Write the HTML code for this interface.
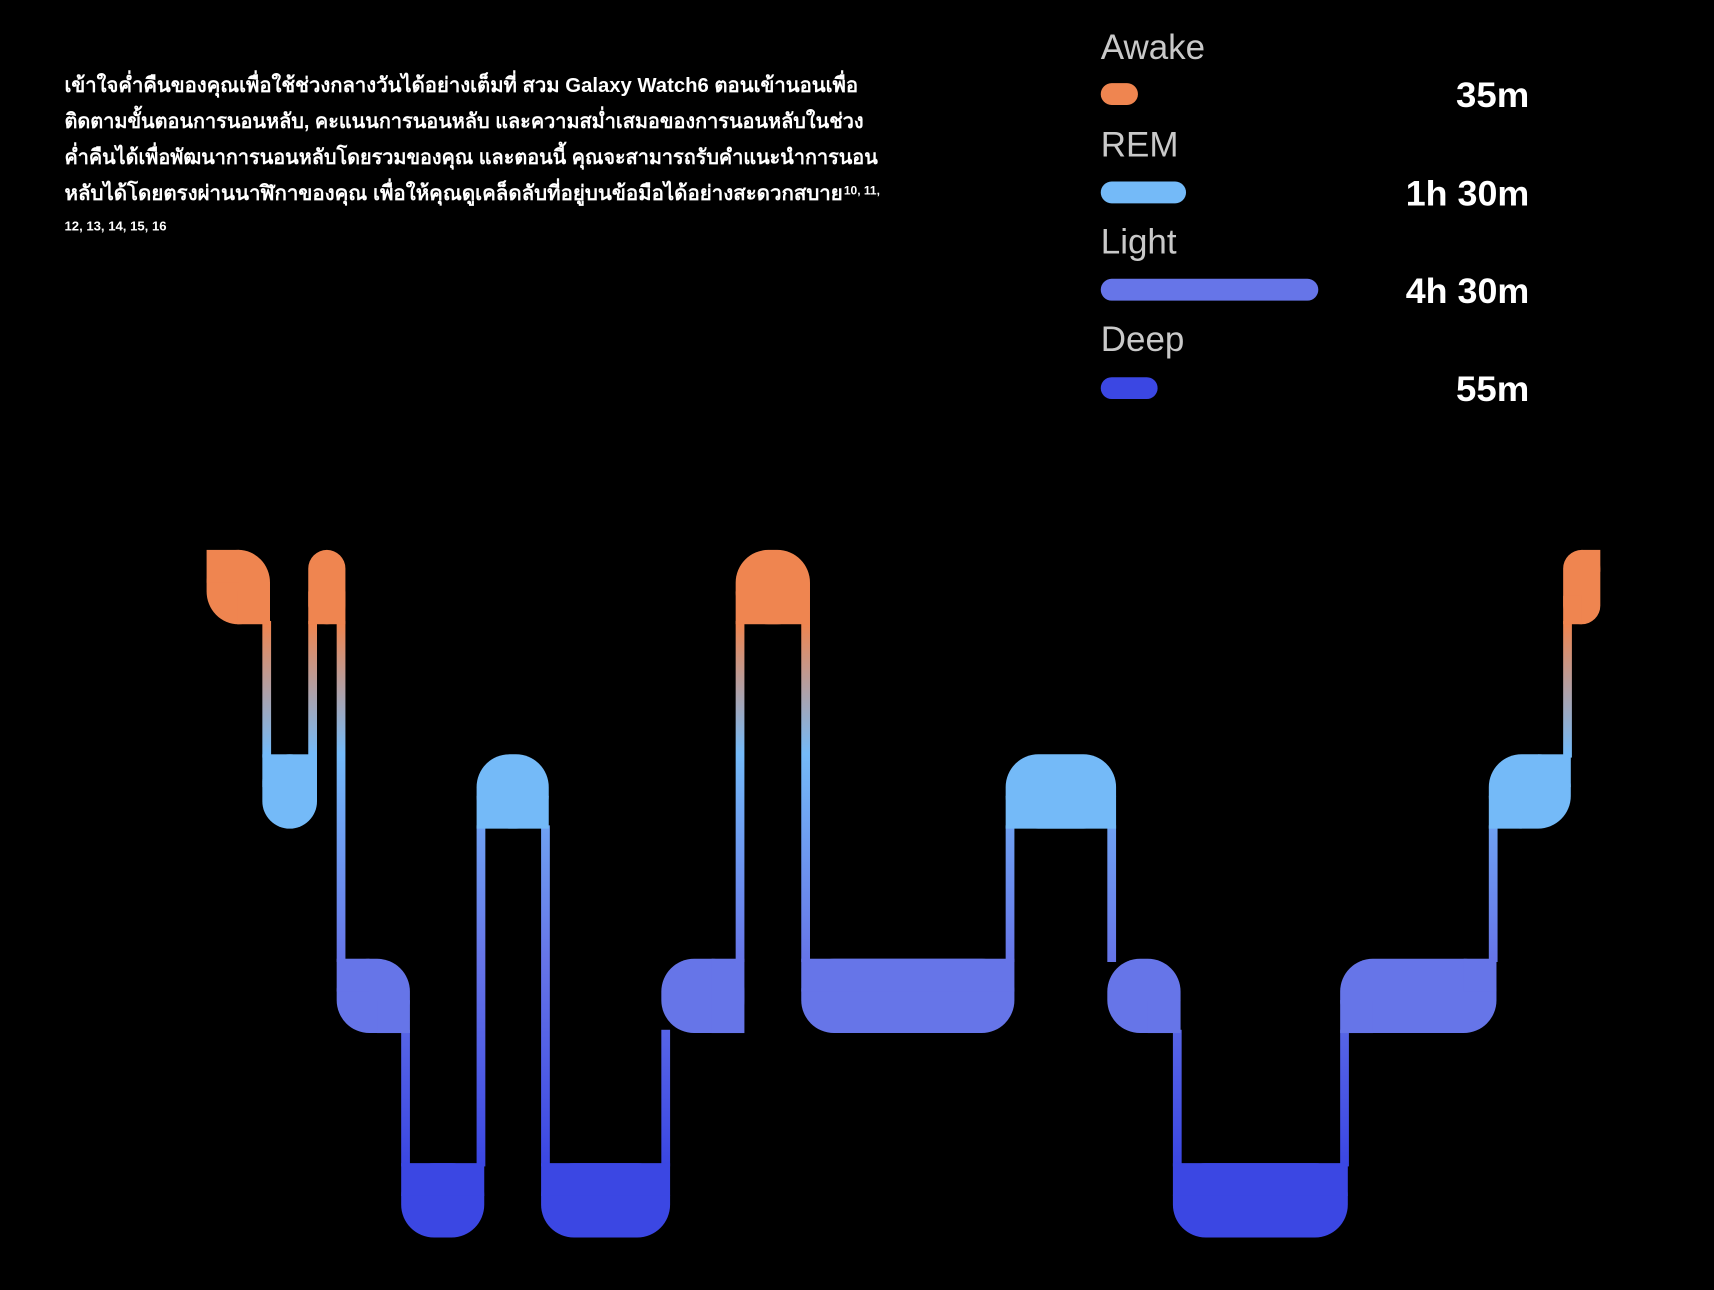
<!DOCTYPE html>
<html><head><meta charset="utf-8"><style>
html,body{margin:0;padding:0;background:#000;width:1714px;height:1290px;overflow:hidden}
svg{display:block}
.p{font-family:"Liberation Sans","DejaVu Sans",sans-serif;font-size:19px;font-weight:bold;fill:#fff}
.l{font-family:"Liberation Sans","DejaVu Sans",sans-serif;font-size:32px;fill:#c9c9c9}
.v{font-family:"Liberation Sans","DejaVu Sans",sans-serif;font-size:32px;font-weight:bold;fill:#fff;text-anchor:end}
</style></head><body>
<svg width="1714" height="1290" viewBox="0 0 1568 1180" xmlns="http://www.w3.org/2000/svg">
<defs>
<linearGradient id="g" gradientUnits="userSpaceOnUse" x1="0" y1="571" x2="0" y2="1064">
<stop offset="0" stop-color="#EF8550"/>
<stop offset="0.24" stop-color="#74BAF8"/>
<stop offset="0.62" stop-color="#6675E8"/>
<stop offset="1" stop-color="#3B47E3"/>
</linearGradient>
</defs>
<rect width="1568" height="1180" fill="#000"/>
<text class="p" x="59" y="84" textLength="726" lengthAdjust="spacingAndGlyphs">เข้าใจค่ำคืนของคุณเพื่อใช้ช่วงกลางวันได้อย่างเต็มที่ สวม Galaxy Watch6 ตอนเข้านอนเพื่อ</text>
<text class="p" x="59" y="117" textLength="731" lengthAdjust="spacingAndGlyphs">ติดตามขั้นตอนการนอนหลับ, คะแนนการนอนหลับ และความสม่ำเสมอของการนอนหลับในช่วง</text>
<text class="p" x="59" y="150" textLength="744" lengthAdjust="spacingAndGlyphs">ค่ำคืนได้เพื่อพัฒนาการนอนหลับโดยรวมของคุณ และตอนนี้ คุณจะสามารถรับคำแนะนำการนอน</text>
<text class="p" x="59" y="183" textLength="712" lengthAdjust="spacingAndGlyphs">หลับได้โดยตรงผ่านนาฬิกาของคุณ เพื่อให้คุณดูเคล็ดลับที่อยู่บนข้อมือได้อย่างสะดวกสบาย</text>
<text class="p" x="772" y="178" style="font-size:11px">10, 11,</text>
<text class="p" x="59" y="211" style="font-size:12px">12, 13, 14, 15, 16</text>

<text class="l" x="1007" y="54">Awake</text>
<text class="l" x="1007" y="143">REM</text>
<text class="l" x="1007" y="232">Light</text>
<text class="l" x="1007" y="321">Deep</text>
<rect x="1007" y="76" width="34" height="20" rx="10" fill="#EF8550"/>
<rect x="1007" y="166" width="78" height="20" rx="10" fill="#74BAF8"/>
<rect x="1007" y="255" width="199" height="20" rx="10" fill="#6675E8"/>
<rect x="1007" y="345" width="52" height="20" rx="10" fill="#3B47E3"/>
<text class="v" x="1399" y="98" textLength="67" lengthAdjust="spacingAndGlyphs">35m</text>
<text class="v" x="1399" y="188" textLength="113" lengthAdjust="spacingAndGlyphs">1h 30m</text>
<text class="v" x="1399" y="277" textLength="113" lengthAdjust="spacingAndGlyphs">4h 30m</text>
<text class="v" x="1399" y="367" textLength="67" lengthAdjust="spacingAndGlyphs">55m</text>

<!-- connectors -->
<g fill="url(#g)">
<rect x="240" y="568" width="8" height="125"/>
<rect x="282" y="568" width="8" height="125"/>
<rect x="308" y="568" width="8" height="312"/>
<rect x="367" y="942" width="8" height="125"/>
<rect x="436" y="755" width="8" height="312"/>
<rect x="495" y="755" width="8" height="312"/>
<rect x="605" y="942" width="8" height="125"/>
<rect x="673" y="568" width="8" height="312"/>
<rect x="733" y="568" width="8" height="312"/>
<rect x="920" y="755" width="8" height="125"/>
<rect x="1013" y="755" width="8" height="125"/>
<rect x="1073" y="942" width="8" height="125"/>
<rect x="1226" y="942" width="8" height="125"/>
<rect x="1362" y="755" width="8" height="125"/>
<rect x="1430" y="568" width="8" height="125"/>
</g>

<!-- Awake bands -->
<g fill="#EF8550">
<rect x="189" y="503" width="58" height="68" rx="30"/><rect x="189" y="503" width="30" height="30"/><rect x="217" y="541" width="30" height="30"/>
<rect x="282" y="503" width="34" height="68" rx="17"/><rect x="282" y="541" width="34" height="30"/>
<rect x="673" y="503" width="68" height="68" rx="30"/><rect x="673" y="541" width="68" height="30"/>
<rect x="1430" y="503" width="34" height="68" rx="17"/><rect x="1447" y="503" width="17" height="20"/><rect x="1430" y="545" width="17" height="26"/>
</g>
<!-- REM -->
<g fill="#74BAF8">
<rect x="240" y="690" width="50" height="68" rx="25"/><rect x="240" y="690" width="50" height="30"/>
<rect x="436" y="690" width="66" height="68" rx="30"/><rect x="436" y="728" width="66" height="30"/>
<rect x="920" y="690" width="101" height="68" rx="30"/><rect x="920" y="728" width="101" height="30"/>
<rect x="1362" y="690" width="75" height="68" rx="30"/><rect x="1407" y="690" width="30" height="30"/><rect x="1362" y="728" width="30" height="30"/>
</g>
<!-- Light -->
<g fill="#6675E8">
<rect x="308" y="877" width="67" height="68" rx="30"/><rect x="308" y="877" width="30" height="30"/><rect x="345" y="915" width="30" height="30"/>
<rect x="605" y="877" width="76" height="68" rx="30"/><rect x="651" y="877" width="30" height="68"/>
<rect x="733" y="877" width="195" height="68" rx="30"/><rect x="733" y="877" width="195" height="30"/>
<rect x="1013" y="877" width="67" height="68" rx="30"/><rect x="1050" y="915" width="30" height="30"/>
<rect x="1226" y="877" width="143" height="68" rx="30"/><rect x="1339" y="877" width="30" height="30"/><rect x="1226" y="915" width="30" height="30"/>
</g>
<!-- Deep -->
<g fill="#3B47E3">
<rect x="367" y="1064" width="76" height="68" rx="30"/><rect x="367" y="1064" width="76" height="30"/>
<rect x="495" y="1064" width="118" height="68" rx="30"/><rect x="495" y="1064" width="118" height="30"/>
<rect x="1073" y="1064" width="160" height="68" rx="30"/><rect x="1073" y="1064" width="160" height="30"/>
</g>
</svg>
</body></html>
